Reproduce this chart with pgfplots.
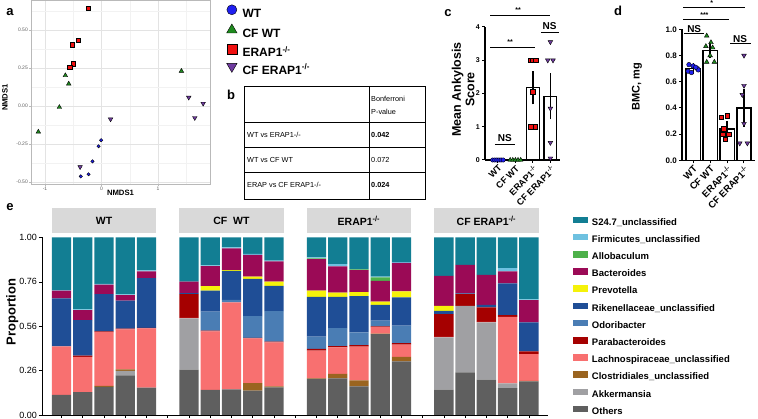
\documentclass[border=0pt]{standalone}
\usepackage{pgfplots}
\pgfplotsset{compat=1.18}
\usepackage{pgfplotstable}
\usepackage{fontspec}
\setmainfont{Liberation Sans}

\definecolor{cS}{HTML}{127E93}
\definecolor{cFi}{HTML}{6EC1E0}
\definecolor{cAl}{HTML}{4DB14A}
\definecolor{cBa}{HTML}{9B0A56}
\definecolor{cPr}{HTML}{F5F20A}
\definecolor{cRi}{HTML}{1F4E96}
\definecolor{cOd}{HTML}{4A7DB4}
\definecolor{cPa}{HTML}{A50000}
\definecolor{cLa}{HTML}{F87070}
\definecolor{cCl}{HTML}{9A6420}
\definecolor{cAk}{HTML}{A0A0A3}
\definecolor{cOt}{HTML}{5F5F5F}
\definecolor{ptBlue}{HTML}{1F1FF0}
\definecolor{ptGreen}{HTML}{1E8A1E}
\definecolor{ptRed}{HTML}{F01010}
\definecolor{ptPurple}{HTML}{6F3BA0}

\newcommand{\fs}[1]{\fontsize{#1}{#1}\selectfont}
\newcommand{\ko}{\textsuperscript{-/-}}

% panel a: NMDS coordinates
\pgfplotstableread{
x y
-0.006 -0.225
-0.053 -0.265
-0.16 -0.364
-0.23 -0.449
-0.367 -0.463
}\aWT
\pgfplotstableread{
x y
-1.118 -0.170
-0.746 -0.008
-0.58 0.146
-0.64 0.201
1.414 0.23
}\aCFWT
\pgfplotstableread{
x y
-0.237 0.643
-0.408 0.434
-0.515 0.403
-0.503 0.278
-0.562 0.256
}\aER
\pgfplotstableread{
x y
0.16 -0.087
-0.379 -0.401
1.544 0.056
1.799 0.016
1.651 -0.078
}\aCFER

% panel e: relative abundances
\pgfplotstableread{
x Ot Ak Cl La Pa Od Ri Pr Ba Al Fi S
0 .113 0 0 .273 0 0 .271 0 .043 0 .004 .296
1 .129 0 0 .199 .006 0 .201 0 .056 0 .004 .405
2 .159 0 .005 .303 .004 0 .210 0 .053 0 .004 .262
3 .223 .025 .009 .225 .004 0 .158 0 .031 0 .004 .321
4 .154 0 0 .334 .003 0 .280 0 .038 0 .006 .185
6 .255 .289 0 .003 .134 0 .006 0 .065 0 0 .248
7 .141 0 0 .330 .004 .108 .117 .026 .113 0 .004 .157
8 .144 0 0 .490 0 .015 .163 .004 .122 0 .006 .056
9 .137 0 .043 .252 .003 .122 .210 .012 .123 0 .005 .093
10 .156 0 .005 .248 .004 .172 .143 .024 .113 0 .005 .130
12 .203 0 .004 .155 .011 .068 .225 .034 .178 .004 .006 .112
13 .206 0 .025 .150 .007 .102 .176 .023 .148 0 .013 .150
14 .161 0 .034 .190 .009 .071 .205 .022 .124 .004 0 .180
15 .456 0 .003 .036 .004 .032 .090 .017 .118 .019 .004 .221
16 .302 0 .026 .068 .009 .098 .159 .034 .161 0 .004 .139
18 .143 .294 0 .003 .128 0 .019 .028 .169 0 0 .216
19 .240 .375 0 0 .066 0 .004 0 .161 0 0 .154
20 .199 .323 0 .003 .081 0 .015 0 .169 0 0 .210
21 .152 .026 0 .375 .010 0 .178 0 .068 0 .018 .173
22 .189 0 .003 .151 .015 0 .164 0 .125 0 .004 .349
}\eT

\begin{document}
\begin{tikzpicture}
\useasboundingbox (0pt,0pt) rectangle (758pt,419pt);

% ---------------- panel a ----------------
\begin{axis}[
  at={(31pt,235pt)}, anchor=south west, scale only axis,
  width=179pt, height=184pt,
  xmin=-1.248, xmax=1.92, ymin=-0.513, ymax=0.697,
  xtick={-1,0,1}, xticklabels={-1,0,1},
  ytick={-0.5,-0.25,0,0.25,0.5}, yticklabels={-0.50,-0.25,0.00,0.25,0.50},
  minor xtick={-0.5,0.5,1.5}, minor ytick={-0.375,-0.125,0.125,0.375,0.625},
  grid=both,
  major grid style={draw=gray!22, line width=0.5pt},
  minor grid style={draw=gray!10, line width=0.3pt},
  axis line style={draw=gray!55, line width=0.5pt},
  major tick style={draw=gray!55, line width=0.4pt}, minor tick length=0pt, major tick length=2pt,
  tick align=outside, tick pos=left,
  ticklabel style={font=\fs{5}, text=gray!75!black, inner sep=1pt},
  xlabel={NMDS1}, ylabel={NMDS1},
  label style={font=\bfseries\fs{7.7}},
  xlabel style={at={(axis description cs:0.5,0)}, anchor=north, yshift=-3pt},
  ylabel style={at={(axis description cs:-0.145,0.47)}, anchor=center},
  legend image code/.code={\draw[#1] plot coordinates {(5.5pt,4.3pt)};},
  legend style={at={(axis description cs:1.092,0.975)}, anchor=north west, draw=none, fill=none,
    inner sep=0pt, row sep=4.4pt, font=\bfseries\fs{12},
    nodes={inner sep=0pt, text height=9pt, text depth=2pt},
    /tikz/every odd column/.append style={column sep=5.5pt}},
  legend cell align=left,
]
\addplot[only marks, mark=*, mark size=1.7pt, draw=none, fill=ptBlue, forget plot] table {\aWT};
\addplot[only marks, mark=triangle*, mark size=2.6pt, draw=none, fill=ptGreen, forget plot] table {\aCFWT};
\addplot[only marks, mark=square*, mark size=2.1pt, draw=none, fill=ptRed, forget plot] table {\aER};
\addplot[only marks, mark=triangle*, mark size=2.6pt, mark options={rotate=180}, draw=none, fill=ptPurple, forget plot] table {\aCFER};
\addlegendimage{only marks, mark=*, mark size=5pt, draw=none, fill=ptBlue}
\addlegendentry{WT}
\addlegendimage{only marks, mark=triangle*, mark size=6pt, draw=none, fill=ptGreen}
\addlegendentry{CF WT}
\addlegendimage{only marks, mark=square*, mark size=5pt, draw=none, fill=ptRed}
\addlegendentry{ERAP1\ko}
\addlegendimage{only marks, mark=triangle*, mark size=6pt, mark options={rotate=180}, draw=none, fill=ptPurple}
\addlegendentry{CF ERAP1\ko}
\end{axis}

% ---------------- panel b (table) ----------------
\begin{scope}[line width=0.7pt]
\draw (244pt,333pt) rectangle (425pt,220pt);
\draw (369pt,333pt) -- (369pt,220pt);
\draw (244pt,297pt) -- (425pt,297pt);
\draw (244pt,272pt) -- (425pt,272pt);
\draw (244pt,247pt) -- (425pt,247pt);
\end{scope}
\begin{scope}[every node/.style={anchor=base west, inner sep=0pt, font=\fs{7.3}}]
\node at (371pt,317.7pt) {Bonferroni};
\node at (371pt,304pt) {P-value};
\node at (247pt,281.9pt) {WT vs ERAP1-/-};
\node[font=\bfseries\fs{7.3}] at (371pt,281.9pt) {0.042};
\node at (247pt,256.9pt) {WT vs CF WT};
\node at (371pt,256.9pt) {0.072};
\node at (247pt,231pt) {ERAP vs CF ERAP1-/-};
\node[font=\bfseries\fs{7.3}] at (371pt,231pt) {0.024};
\end{scope}

% ---------------- panel c ----------------
\begin{axis}[
  at={(485pt,259pt)}, anchor=south west, scale only axis, width=75pt, height=133pt,
  xmin=-0.74, xmax=3.55, ymin=0, ymax=4, clip=false,
  axis lines=left, axis line style={-, line width=1.3pt},
  tick style={line width=1pt, black}, tick align=outside, major tick length=3pt,
  xtick={0,1,2,3}, xticklabels={WT,CF WT,ERAP1\ko,CF ERAP1\ko},
  xticklabel style={rotate=45, anchor=north east, font=\bfseries\fs{9}, inner sep=1pt},
  ytick={0,1,2,3,4}, yticklabels={0,1,2,3,4}, yticklabel style={font=\bfseries\fs{7}, inner sep=2pt},
  ylabel={Mean Ankylosis\\Score},
  ylabel style={align=center, font=\bfseries\fontsize{12.5}{13.5}\selectfont, at={(axis description cs:-0.29,0.53)}, anchor=center},
]
\addplot[ybar, bar width=0.72, bar shift=0pt, fill=white, draw=black, line width=1.3pt,
  error bars/.cd, y dir=both, y explicit, error bar style={line width=1.3pt, black},
  error mark options={mark size=3.2pt, line width=1.3pt, black}]
  coordinates {(2,2.17) +- (0,0.4) (3,1.92) +- (0,0.6)};
\addplot[only marks, mark=*, mark size=2.2pt, draw=none, fill=ptBlue] coordinates {(-0.3,0) (-0.18,0) (-0.06,0) (0.06,0) (0.18,0) (0.3,0)};
\addplot[only marks, mark=triangle*, mark size=2.6pt, draw=none, fill=ptGreen] coordinates {(0.7,0) (0.85,0) (1,0) (1.15,0) (1.3,0)};
\addplot[only marks, mark=square*, mark size=2.3pt, draw=none, fill=ptRed] coordinates {(1.85,3) (2,3) (2.15,3) (2,2.05) (1.88,1) (2.12,1)};
\addplot[only marks, mark=triangle*, mark size=2.7pt, mark options={rotate=180}, draw=none, fill=ptPurple] coordinates {(3,3.55) (2.85,3) (3.15,3) (3,1.55) (3,0.52) (3,0.05)};
\draw[line width=0.9pt] (axis cs:-0.45,4.35) -- (axis cs:3,4.35);
\node[font=\bfseries\fs{7}] at (axis cs:1.15,4.5) {**};
\draw[line width=0.9pt] (axis cs:-0.45,3.39) -- (axis cs:2.1,3.39);
\node[font=\bfseries\fs{7}] at (axis cs:0.7,3.54) {**};
\node[font=\bfseries\fs{10}] at (axis cs:2.95,4.02) {NS};
\draw[line width=1pt] (axis cs:2.45,3.82) -- (axis cs:3.5,3.82);
\node[font=\bfseries\fs{10}] at (axis cs:0.4,0.66) {NS};
\draw[line width=1pt] (axis cs:-0.17,0.47) -- (axis cs:0.97,0.47);
\end{axis}

% ---------------- panel d ----------------
\begin{axis}[
  at={(682pt,258.7pt)}, anchor=south west, scale only axis, width=73pt, height=131pt,
  xmin=-0.66, xmax=3.65, ymin=0, ymax=1, clip=false,
  axis lines=left, axis line style={-, line width=1.3pt},
  tick style={line width=1pt, black}, tick align=outside, major tick length=3pt,
  xtick={0,1,2,3}, xticklabels={WT,CF WT,ERAP1\ko,CF ERAP1\ko},
  xticklabel style={rotate=45, anchor=north east, font=\bfseries\fs{9.5}, inner sep=1pt},
  ytick={0,0.2,0.4,0.6,0.8,1}, yticklabels={0.0,0.2,0.4,0.6,0.8,1.0},
  yticklabel style={font=\bfseries\fs{8}, inner sep=2pt},
  ylabel={BMC, mg},
  ylabel style={font=\bfseries\fs{11}, at={(axis description cs:-0.616,0.56)}, anchor=center},
]
\addplot[ybar, bar width=0.84, bar shift=0pt, fill=white, draw=black, line width=1.3pt,
  error bars/.cd, y dir=both, y explicit, error bar style={line width=1.3pt, black},
  error mark options={mark size=3.2pt, line width=1.3pt, black}]
  coordinates {(0,0.70) +- (0,0.015) (1,0.84) +- (0,0.035) (2,0.238) +- (0,0.035) (3,0.40) +- (0,0.12)};
\addplot[only marks, mark=*, mark size=2.3pt, draw=none, fill=ptBlue] coordinates {(-0.25,0.73) (0,0.72) (0.25,0.70) (-0.3,0.68) (0.3,0.69) (-0.1,0.67) (0.15,0.71)};
\addplot[only marks, mark=triangle*, mark size=2.7pt, draw=none, fill=ptGreen] coordinates {(0.8,0.95) (1.05,0.90) (0.75,0.87) (1.15,0.86) (1.0,0.80) (0.8,0.75) (1.25,0.75)};
\addplot[only marks, mark=square*, mark size=2.3pt, draw=none, fill=ptRed] coordinates {(1.65,0.33) (2.0,0.34) (1.8,0.24) (2.1,0.2) (1.9,0.16) (1.75,0.2)};
\addplot[only marks, mark=triangle*, mark size=2.7pt, mark options={rotate=180}, draw=none, fill=ptPurple] coordinates {(3,0.80) (3,0.57) (2.9,0.50) (3,0.28) (2.75,0.13) (3.2,0.13)};
\draw[line width=0.9pt] (axis cs:-0.6,1.17) -- (axis cs:3.05,1.17);
\node[font=\bfseries\fs{7}] at (axis cs:1.1,1.2) {*};
\draw[line width=0.9pt] (axis cs:-0.6,1.076) -- (axis cs:2.1,1.076);
\node[font=\bfseries\fs{7}] at (axis cs:0.66,1.105) {***};
\node[font=\bfseries\fs{10}] at (axis cs:0.06,1.0) {NS};
\draw[line width=1pt] (axis cs:-0.54,0.968) -- (axis cs:0.66,0.968);
\node[font=\bfseries\fs{10}] at (axis cs:2.77,0.925) {NS};
\draw[line width=1pt] (axis cs:2.2,0.888) -- (axis cs:3.4,0.888);
\end{axis}

% ---------------- panel e ----------------
\begin{axis}[
  at={(42pt,4pt)}, anchor=south west, scale only axis, width=506pt, height=177.5pt,
  xmin=-0.92, xmax=22.9, ymin=0, ymax=1, clip=false,
  ybar stacked, bar width=0.91,
  axis lines=left, axis line style={-, line width=0.7pt},
  tick style={line width=0.6pt, black}, tick align=outside, major tick length=3pt,
  xtick={0,...,22}, xticklabels={},
  ytick={0,0.25,0.5,0.75,1}, yticklabels={0.00,0.26,0.56,0.76,1.00},
  yticklabel style={font=\fs{9}, inner sep=2pt},
  ylabel={Proportion},
  ylabel style={font=\bfseries\fs{13}, at={(axis description cs:-0.059,0.58)}, anchor=center},
  legend image code/.code={\fill[#1, draw=none] (0pt,-0.6pt) rectangle (15pt,6.1pt);},
  legend style={at={(axis description cs:1.049,1.119)}, anchor=north west, draw=none, fill=none,
    inner sep=0pt, row sep=6.6pt, font=\bfseries\fs{9.5},
    nodes={inner sep=0pt, text height=7pt, text depth=2pt},
    /tikz/every odd column/.append style={column sep=4pt}},
  legend cell align=left, reverse legend,
]
\addplot[fill=cOt, draw=none] table[x=x, y=Ot] {\eT}; \addlegendentry{Others}
\addplot[fill=cAk, draw=none] table[x=x, y=Ak] {\eT}; \addlegendentry{Akkermansia}
\addplot[fill=cCl, draw=none] table[x=x, y=Cl] {\eT}; \addlegendentry{Clostridiales\_unclassified}
\addplot[fill=cLa, draw=none] table[x=x, y=La] {\eT}; \addlegendentry{Lachnospiraceae\_unclassified}
\addplot[fill=cPa, draw=none] table[x=x, y=Pa] {\eT}; \addlegendentry{Parabacteroides}
\addplot[fill=cOd, draw=none] table[x=x, y=Od] {\eT}; \addlegendentry{Odoribacter}
\addplot[fill=cRi, draw=none] table[x=x, y=Ri] {\eT}; \addlegendentry{Rikenellaceae\_unclassified}
\addplot[fill=cPr, draw=none] table[x=x, y=Pr] {\eT}; \addlegendentry{Prevotella}
\addplot[fill=cBa, draw=none] table[x=x, y=Ba] {\eT}; \addlegendentry{Bacteroides}
\addplot[fill=cAl, draw=none] table[x=x, y=Al] {\eT}; \addlegendentry{Allobaculum}
\addplot[fill=cFi, draw=none] table[x=x, y=Fi] {\eT}; \addlegendentry{Firmicutes\_unclassified}
\addplot[fill=cS, draw=none] table[x=x, y=S] {\eT}; \addlegendentry{S24.7\_unclassified}
\fill[gray!30] (axis cs:-0.46,1.025) rectangle (axis cs:4.46,1.166);
\fill[gray!30] (axis cs:5.54,1.025) rectangle (axis cs:10.46,1.166);
\fill[gray!30] (axis cs:11.54,1.025) rectangle (axis cs:16.46,1.166);
\fill[gray!30] (axis cs:17.54,1.025) rectangle (axis cs:22.46,1.166);
\coordinate (s1) at (axis cs:2,1.0955);
\coordinate (s2) at (axis cs:8,1.0955);
\coordinate (s3) at (axis cs:14,1.0955);
\coordinate (s4) at (axis cs:20,1.0955);
\end{axis}
\begin{scope}[every node/.style={font=\bfseries\fs{10.5}, inner sep=0pt, text=black}]
\node at (s1) {WT};
\node at (s2) {CF~~WT};
\node at (s3) {ERAP1\ko};
\node at (s4) {CF ERAP1\ko};
\end{scope}

% ---------------- panel letters ----------------
\begin{scope}[every node/.style={font=\bfseries\fs{13}, inner sep=0pt}]
\node at (10pt,407pt) {a};
\node at (231pt,324pt) {b};
\node at (448pt,406pt) {c};
\node at (618pt,408pt) {d};
\node at (10pt,212pt) {e};
\end{scope}
\end{tikzpicture}
\end{document}
